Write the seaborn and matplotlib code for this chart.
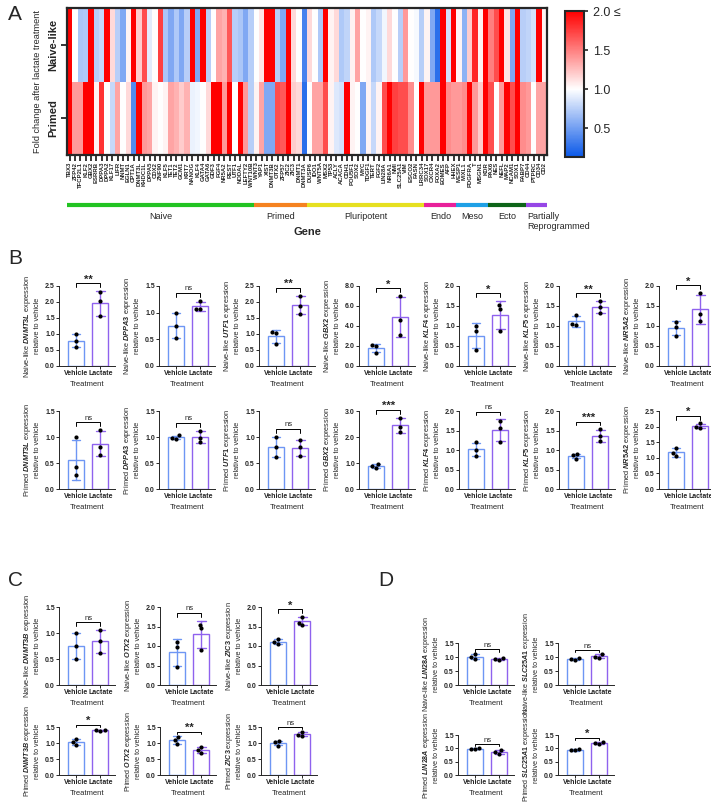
import numpy as np
import pandas as pd
import matplotlib
matplotlib.use("Agg")
import matplotlib.pyplot as plt
import matplotlib.transforms as mtransforms
from matplotlib.colors import LinearSegmentedColormap
from matplotlib.ticker import FormatStrFormatter, MultipleLocator
import seaborn as sns

# --- heatmap data (fold change after lactate) ---
naive_genes = ["TBX3", "ZFP42", "TFCP2L1", "KLF2", "GBX2", "ESRRB", "DPPA3", "DPPA2", "KLF17",
               "LIFR", "NNMT", "EGLN1", "CPT1A", "DNMT3L", "KHDC1L", "DPPA5", "CDX2", "ZNF90",
               "KLF5", "TET1", "TET2", "GCM1", "KRT7", "NANOG", "KLF4", "GATA4", "GATA6", "GDF3",
               "FGF4", "NR5A2", "REST", "UTF1", "NODAL", "LEFTY2", "WNT10B"]
primed_genes = ["WNT3", "YAP1", "XIST", "DNMT3B", "OTX2", "ZFP57", "ZIC2", "ZIC3", "DNMT1", "DNMT3A"]
pluri_genes = ["DUSP6", "IDO1", "WNT5A", "MSX2", "TP53", "ACLY", "ACACA", "CDH1", "POU5F1", "SOX2",
               "MYC", "TDGF1", "TERT", "FGF2", "LIN28A", "NR6A1", "NMI", "SLC25A1", "VIM", "ESCO2",
               "FASN", "LRRC34"]
endo_genes = ["SOX17", "CXCR4", "FOXA2", "EOMES", "AFP", "HHEX"]
meso_genes = ["MESP1", "MIXL1", "PDGFRA", "T", "MSGN1", "KDR"]
ecto_genes = ["PAX6", "NES", "NEFL", "MAP2", "NCAM1", "SOX1", "FABP7"]
partial_genes = ["CD44", "PTPRC", "CD34", "CD2"]

naive_like_fc = [2.0, 1.0, 0.7, 0.72, 2.0, 0.75, 0.8, 2.0, 1.15, 0.75, 0.55, 1.05, 2.0, 1.2, 1.7,
                 0.9, 1.0, 1.75, 0.7, 0.55, 0.72, 0.55, 0.75, 2.0, 0.55, 2.0, 0.75, 1.0, 1.35, 1.3,
                 1.65, 0.75, 0.7, 0.55, 0.75, 1.0, 1.1, 2.0, 2.0, 0.75, 0.55, 2.0, 1.15, 1.0, 0.35,
                 1.15, 1.0, 0.72, 2.0, 1.05, 1.15, 0.72, 0.78, 1.05, 1.35, 1.0, 1.05, 0.72, 0.8,
                 0.95, 1.15, 1.0, 0.75, 1.4, 1.0, 0.97, 0.75, 1.05, 0.55, 0.25, 2.0, 0.85, 2.0,
                 1.05, 0.6, 1.2, 1.85, 1.05, 2.0, 1.5, 1.7, 2.0, 1.1, 0.55, 2.0, 0.75, 0.78, 0.85,
                 2.0, 1.05]
primed_fc = [2.0, 1.4, 1.4, 2.0, 2.0, 1.05, 1.8, 1.0, 0.8, 1.35, 1.0, 1.15, 0.4, 2.0, 1.4, 1.35,
             1.05, 1.0, 1.05, 1.35, 1.3, 1.2, 1.3, 0.93, 0.95, 1.0, 1.15, 2.0, 2.0, 1.4, 2.0, 1.0,
             2.0, 1.4, 0.75, 1.05, 1.35, 0.55, 0.55, 1.7, 1.65, 2.0, 1.2, 1.15, 0.25, 1.0, 1.35,
             1.35, 1.7, 1.05, 0.88, 0.85, 2.0, 1.05, 1.0, 0.55, 1.05, 0.8, 1.05, 1.7, 2.0, 1.75,
             1.7, 1.7, 1.45, 1.0, 2.0, 1.4, 1.4, 1.4, 2.0, 1.45, 1.4, 1.4, 1.45, 2.0, 1.4, 1.2,
             2.0, 1.7, 1.0, 1.4, 2.0, 1.7, 2.0, 1.45, 1.4, 1.0, 1.35, 1.35]

group_names = ["Naive", "Primed", "Pluripotent", "Endo", "Meso", "Ecto", "Partially\nReprogrammed"]
group_genes = [naive_genes, primed_genes, pluri_genes, endo_genes, meso_genes, ecto_genes, partial_genes]
group_colors = ["#22c322", "#f58220", "#e6e020", "#e8209a", "#1ea0e6", "#0d6418", "#9646e6"]

# --- bar panels: three replicates per condition ---
b_genes = ["DNMT3L", "DPPA3", "UTF1", "GBX2", "KLF4", "KLF5", "NR5A2"]
b_naive_vehicle = [[1.0, 0.78, 0.6], [1.0, 0.75, 0.52], [1.05, 1.03, 0.7], [2.1, 2.0, 1.3],
                   [1.0, 0.88, 0.4], [1.28, 1.06, 1.02], [1.1, 0.98, 0.75]]
b_naive_lactate = [[2.32, 2.02, 1.55], [1.22, 1.07, 1.06], [2.2, 1.88, 1.62], [7.0, 4.6, 3.1],
                   [1.53, 1.43, 0.88], [1.63, 1.47, 1.33], [1.82, 1.3, 1.12]]
b_naive_sig = ["**", "ns", "**", "*", "*", "**", "*"]
b_naive_ymax = [2.5, 1.5, 2.5, 8.0, 2.0, 2.0, 2.0]
b_naive_step = [0.5, 0.5, 0.5, 2.0, 0.5, 0.5, 0.5]

b_primed_vehicle = [[1.0, 0.42, 0.26], [1.03, 0.97, 0.99], [1.0, 0.8, 0.62], [0.95, 0.87, 0.8],
                    [1.2, 1.0, 0.85], [0.9, 0.86, 0.78], [1.32, 1.15, 1.05]]
b_primed_lactate = [[1.13, 0.81, 0.66], [1.12, 0.98, 0.9], [0.95, 0.8, 0.64], [2.75, 2.4, 2.2],
                    [1.75, 1.57, 1.2], [1.53, 1.35, 1.22], [2.1, 2.0, 1.95]]
b_primed_sig = ["ns", "ns", "ns", "***", "ns", "***", "*"]
b_primed_ymax = [1.5, 1.5, 1.5, 3.0, 2.0, 2.0, 2.5]
b_primed_step = [0.5, 0.5, 0.5, 1.0, 0.5, 0.5, 0.5]

c_genes = ["DNMT3B", "OTX2", "ZIC3"]
c_naive_vehicle = [[1.0, 0.75, 0.5], [1.1, 0.98, 0.45], [1.17, 1.1, 1.05]]
c_naive_lactate = [[1.05, 0.85, 0.62], [1.55, 1.45, 0.9], [1.75, 1.6, 1.55]]
c_naive_sig = ["ns", "ns", "*"]
c_naive_ymax = [1.5, 2.0, 2.0]
c_primed_vehicle = [[1.12, 1.03, 0.95], [1.2, 1.1, 0.98], [1.05, 1.02, 0.92]]
c_primed_lactate = [[1.42, 1.4, 1.38], [0.88, 0.78, 0.7], [1.35, 1.25, 1.22]]
c_primed_sig = ["*", "**", "ns"]
c_primed_ymax = [1.5, 1.5, 1.5]

d_genes = ["LIN28A", "SLC25A1"]
d_naive_vehicle = [[1.12, 1.0, 0.92], [0.95, 0.92, 0.88]]
d_naive_lactate = [[0.95, 0.93, 0.88], [1.1, 1.0, 0.97]]
d_naive_sig = ["ns", "ns"]
d_primed_vehicle = [[1.0, 0.98, 0.96], [0.97, 0.94, 0.92]]
d_primed_lactate = [[0.95, 0.85, 0.8], [1.25, 1.2, 1.18]]
d_primed_sig = ["ns", "*"]

VEH_C = "#6e96f4"
LAC_C = "#8f62ee"

sns.set_style("ticks")
plt.rcParams["font.family"] = ["Liberation Sans", "DejaVu Sans"]
plt.rcParams["font.weight"] = "bold"
plt.rcParams["mathtext.fontset"] = "custom"
plt.rcParams["mathtext.rm"] = "Liberation Sans:bold"
plt.rcParams["mathtext.it"] = "Liberation Sans:italic:bold"
plt.rcParams["mathtext.bf"] = "Liberation Sans:bold"

W, H = 711, 802
fig = plt.figure(figsize=(W / 100, H / 100), dpi=100)


def px_axes(left, top, width, height):
    return fig.add_axes([left / W, 1 - (top + height) / H, width / W, height / H])


# ---------------- panel A ----------------
genes = sum(group_genes, [])
hm = pd.DataFrame([naive_like_fc, primed_fc], index=["Naive-like", "Primed"], columns=genes)
cmap = LinearSegmentedColormap.from_list(
    "fc", [(0.0, "#0a58e8"), (0.465, "#ffffff"), (1.0, "#ff0000")])

ax = px_axes(67, 8, 480, 147)
cax = px_axes(565, 11, 19, 146)
sns.heatmap(hm, ax=ax, cbar_ax=cax, cmap=cmap, vmin=0.13, vmax=2.0,
            xticklabels=True, yticklabels=True)
for s in ax.spines.values():
    s.set_visible(True)
    s.set_linewidth(1.6)
ax.tick_params(axis="x", length=4, width=1.3, labelsize=4.3, pad=1, labelrotation=90)
ax.tick_params(axis="y", length=4, width=1.3, labelsize=8, pad=2)
for lab in ax.get_yticklabels():
    lab.set_rotation(90)
    lab.set_va("center")
ax.set_xlabel("")
ax.set_ylabel("Fold change after lactate treatment", fontsize=6.6, labelpad=5)

cbar = ax.collections[0].colorbar
cbar.set_ticks([0.5, 1.0, 1.5, 2.0])
cbar.set_ticklabels(["0.5", "1.0", "1.5", "2.0 \u2264"])
cbar.ax.tick_params(labelsize=9, length=3, width=1.2)
for lab in cbar.ax.get_yticklabels():
    lab.set_fontweight("normal")
cbar.outline.set_linewidth(1.5)

trans = mtransforms.blended_transform_factory(ax.transData, fig.transFigure)
start = 0
for name, glist, col in zip(group_names, group_genes, group_colors):
    end = start + len(glist)
    ax.plot([start, end], [1 - 205 / H, 1 - 205 / H], color=col, lw=3,
            solid_capstyle="butt", transform=trans, clip_on=False)
    if name.startswith("Partially"):
        ax.text(start + 0.3, 1 - 212 / H, name, transform=trans, ha="left", va="top",
                fontsize=6.5, fontweight="normal")
    else:
        ax.text((start + end) / 2, 1 - 212 / H, name, transform=trans, ha="center", va="top",
                fontsize=6.5, fontweight="normal")
    start = end
fig.text(307 / W, 1 - 232 / H, "Gene", ha="center", va="center", fontsize=8)


# ---------------- bar panels ----------------
def bar_panel(left, top, height, prefix, gene, veh, lac, sig, ymax, step, lab_fs=5.3):
    ax = px_axes(left, top, 56, height)
    df = pd.DataFrame({"Treatment": ["Vehicle"] * len(veh) + ["Lactate"] * len(lac),
                       "value": veh + lac})
    sns.barplot(df, x="Treatment", y="value", hue="Treatment", palette=[VEH_C, LAC_C],
                errorbar="sd", capsize=0.35, fill=False, width=0.65, linewidth=1.0,
                err_kws={"linewidth": 1.0}, legend=False, ax=ax)
    for ln in ax.lines:
        ln.set_color(VEH_C if np.nanmean(ln.get_xdata()) < 0.5 else LAC_C)
    sns.swarmplot(df, x="Treatment", y="value", color="black", size=3, ax=ax)
    ax.set_xlim(-0.7, 1.6)
    ax.set_ylim(0, ymax)
    ax.yaxis.set_major_locator(MultipleLocator(step))
    ax.yaxis.set_major_formatter(FormatStrFormatter("%.1f"))
    ax.tick_params(labelsize=5, length=2, width=0.7, pad=1)
    ax.set_xlabel("Treatment", fontsize=5.5, labelpad=3)
    ax.set_ylabel(f"{prefix} $\\mathit{{{gene}}}$ expression\nrelative to vehicle",
                  fontsize=lab_fs, labelpad=3, linespacing=1.2)
    sns.despine(ax=ax)
    for s in ax.spines.values():
        s.set_linewidth(0.7)
    sd = [np.mean(v) + np.std(v, ddof=1) for v in (veh, lac)]
    top_val = max(max(veh), max(lac), *sd)
    yb = top_val + 0.05 * ymax
    hb = 0.05 * ymax
    ax.plot([0, 0, 1, 1], [yb, yb + hb, yb + hb, yb], color="black", lw=0.7, clip_on=False)
    if sig == "ns":
        ax.text(0.5, yb + hb + 0.01 * ymax, sig, ha="center", va="bottom", fontsize=5.5,
                fontweight="normal")
    else:
        ax.text(0.5, yb + hb - 0.02 * ymax, sig, ha="center", va="bottom", fontsize=8)
    return ax


for i, g in enumerate(b_genes):
    bar_panel(59 + 100 * i, 286, 80, "Naive-like", g, b_naive_vehicle[i], b_naive_lactate[i],
              b_naive_sig[i], b_naive_ymax[i], b_naive_step[i])
    bar_panel(59 + 100 * i, 411, 78, "Primed", g, b_primed_vehicle[i], b_primed_lactate[i],
              b_primed_sig[i], b_primed_ymax[i], b_primed_step[i])

for i, g in enumerate(c_genes):
    bar_panel(59 + 101 * i, 607, 78, "Naive-like", g, c_naive_vehicle[i], c_naive_lactate[i],
              c_naive_sig[i], c_naive_ymax[i], 0.5)
    bar_panel(59 + 101 * i, 727, 48, "Primed", g, c_primed_vehicle[i], c_primed_lactate[i],
              c_primed_sig[i], c_primed_ymax[i], 0.5, lab_fs=5.1)

for i, g in enumerate(d_genes):
    bar_panel(458 + 100 * i, 643, 42, "Naive-like", g, d_naive_vehicle[i], d_naive_lactate[i],
              d_naive_sig[i], 1.5, 0.5, lab_fs=5.1)
    bar_panel(458 + 100 * i, 735, 40, "Primed", g, d_primed_vehicle[i], d_primed_lactate[i],
              d_primed_sig[i], 1.5, 0.5, lab_fs=5.1)

for letter, x, y in [("A", 8, 14), ("B", 8, 258), ("C", 8, 580), ("D", 378, 580)]:
    fig.text(x / W, 1 - y / H, letter, fontsize=15, fontweight="normal", va="center")

fig.savefig("out.png", dpi=100)
